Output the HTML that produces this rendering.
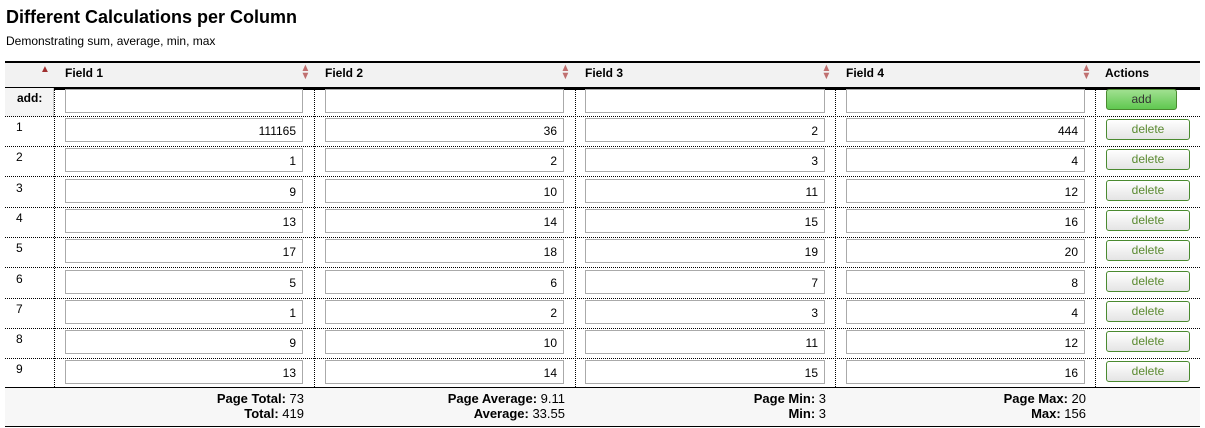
<!DOCTYPE html>
<html><head><meta charset="utf-8"><style>
body{margin:0;width:1205px;height:428px;background:#fff;font-family:"Liberation Sans",Arial,sans-serif;position:relative;overflow:hidden;color:#000}
.a{position:absolute}
h1{position:absolute;left:6px;top:7px;margin:0;font-size:18px;font-weight:bold}
.sub{left:6px;top:34px;font-size:12px}
.hdr{left:5px;top:61px;width:1195px;height:24px;background:#f2f2f2;border-top:2px solid #000;border-bottom:3px solid #000}
.ht{font-size:12px;font-weight:bold;top:66px}
.sort{font-size:11px;color:#c07070;top:64px;line-height:8px;width:10px;text-align:center;transform:scaleX(0.9)}
.inp{box-sizing:border-box;border:1px solid #aaa;height:24px;font-size:12px;text-align:right;padding:5px 6px 0 0;background:#fff}
.hl{height:0;border-top:1px dotted #000;left:5px;width:1195px}
.vl{width:0;border-left:1px dotted #000}
.btn{box-sizing:border-box;border:1px solid #4a8a30;border-radius:3px;height:21px;font-size:12px;text-align:center;line-height:19px;color:#5a8a30;background:linear-gradient(#fff,#e4e4e4)}
.add{background:linear-gradient(#a0e090,#60c850);color:#333}
.ft{font-size:13px;text-align:right;line-height:15px}
</style></head><body>
<h1>Different Calculations per Column</h1>
<div class="a sub">Demonstrating sum, average, min, max</div>
<div class="a hdr"></div>
<div class="a" style="left:40px;top:64px;font-size:10px;color:#a03030">▲</div>
<div class="a ht" style="left:65px">Field 1</div>
<div class="a ht" style="left:325px">Field 2</div>
<div class="a ht" style="left:585px">Field 3</div>
<div class="a ht" style="left:846px">Field 4</div>
<div class="a ht" style="left:1105px">Actions</div>
<div class="a sort" style="left:300px">▲<br>▼</div>
<div class="a sort" style="left:560px">▲<br>▼</div>
<div class="a sort" style="left:821px">▲<br>▼</div>
<div class="a sort" style="left:1081px">▲<br>▼</div>
<div class="a" style="left:5px;top:88px;width:48px;height:29px;background:#f4f4f4;border-right:1px solid #ccc"></div>
<div class="a" style="left:17px;top:91px;font-size:12px;font-weight:bold">add:</div>
<div id="rows"></div>
<div class="a" style="left:5px;top:387px;width:1195px;height:38px;background:#f7f7f7;border-top:1px solid #000;border-bottom:1px solid #000"></div>
<div class="a ft" style="left:100px;width:204px;top:391px"><b>Page Total:</b> 73<br><b>Total:</b> 419</div>
<div class="a ft" style="left:360px;width:205px;top:391px"><b>Page Average:</b> 9.11<br><b>Average:</b> 33.55</div>
<div class="a ft" style="left:620px;width:206px;top:391px"><b>Page Min:</b> 3<br><b>Min:</b> 3</div>
<div class="a ft" style="left:880px;width:206px;top:391px"><b>Page Max:</b> 20<br><b>Max:</b> 156</div>
<script>
const rowIds=[1,2,3,4,5,6,7,8,9];
const field1=[111165,1,9,13,17,5,1,9,13];
const field2=[36,2,10,14,18,6,2,10,14];
const field3=[2,3,11,15,19,7,3,11,15];
const field4=[444,4,12,16,20,8,4,12,16];
const cols=[[65,238],[325,239],[585,240],[846,239]];
const R=document.getElementById('rows');
function mk(cls,style,txt){const d=document.createElement('div');d.className='a '+cls;d.style.cssText=style;if(txt!==undefined)d.textContent=txt;R.appendChild(d);return d;}
[54,314,575,835,1095].forEach(x=>{const v=mk('vl','left:'+x+'px;top:88px;height:299px');

});
cols.forEach((c,j)=>{const i=mk('inp','left:'+c[0]+'px;top:89px;width:'+c[1]+'px');

});
const ab=mk('btn add','left:1106px;top:89px;width:71px;height:21px','add');


const l0=mk('hl','top:116px');


const data=[field1,field2,field3,field4];
rowIds.forEach((id,r)=>{
 const top=117+r*30.3;
 const n=mk('','left:16px;top:'+(top+3)+'px;font-size:12px',String(id));
 
 
 cols.forEach((c,j)=>{const i=mk('inp','left:'+c[0]+'px;top:'+(top+1)+'px;width:'+c[1]+'px',String(data[j][r]));
  
  });
 const b=mk('btn','left:1106px;top:'+(top+2)+'px;width:84px','delete');
 
 
 if(r<8){const l=mk('hl','top:'+(top+29)+'px');
  
  }
});
</script>
</body></html>
